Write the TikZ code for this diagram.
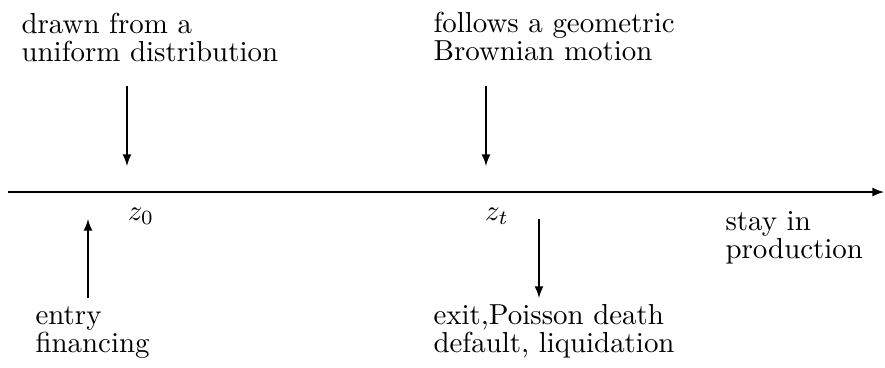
\documentclass[tikz,border=0pt]{standalone}
\begin{document}
\begin{tikzpicture}[x=0.346pt,y=-0.346pt,
  lbl/.style={inner sep=0pt, anchor=base west, align=left, font=\fontsize{10}{9.4}\selectfont},
  mlbl/.style={inner sep=0pt, anchor=base},
  arr/.style={-latex, line width=0.4pt}]
\useasboundingbox (0,0) rectangle (885,367);
% axis
\coordinate (axL) at (8,192);
\coordinate (axR) at (884,192);
\draw[arr] (axL) -- (axR);
% labels (anchored at the baseline of the last line)
\node[lbl] (t1) at (21,61) {drawn from a\\uniform distribution};
\node[lbl] (t2) at (433,60) {follows a geometric\\Brownian motion};
\node[lbl] (t3) at (725,258) {stay in\\production};
\node[lbl] (t4) at (35,352) {entry\\financing};
\node[lbl] (t5) at (433,352) {exit,Poisson death\\default, liquidation};
\node[mlbl] (z0) at (141,220) {$z_0$};
\node[mlbl] (zt) at (497,220) {$z_t$};
% arrow ends
\coordinate (a1s) at (127,86);  \coordinate (a1e) at (127,166);
\coordinate (a2s) at (486,86);  \coordinate (a2e) at (486,166);
\coordinate (a3s) at (88,298);  \coordinate (a3e) at (88,219);
\coordinate (a4s) at (539,219); \coordinate (a4e) at (539,298);
\draw[arr] (a1s) -- (a1e);
\draw[arr] (a2s) -- (a2e);
\draw[arr] (a3s) -- (a3e);
\draw[arr] (a4s) -- (a4e);
\end{tikzpicture}
\end{document}
